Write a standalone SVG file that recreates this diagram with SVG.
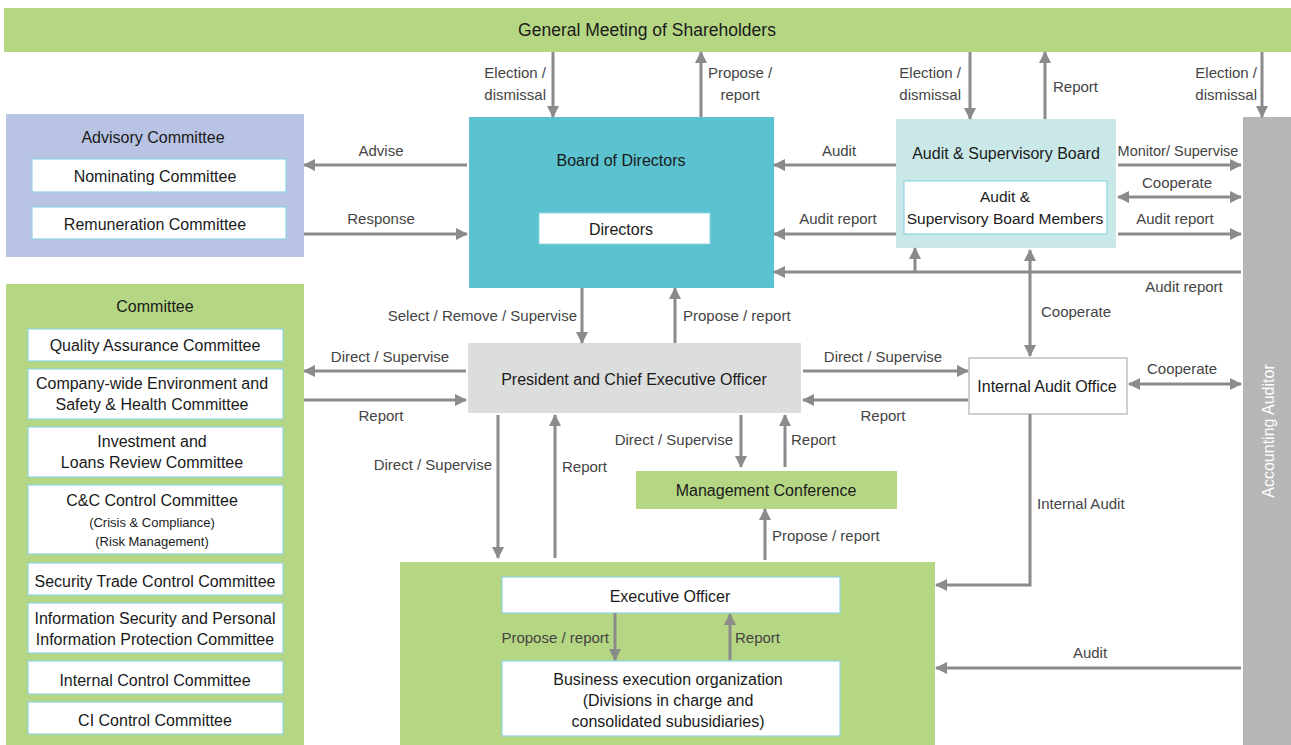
<svg xmlns="http://www.w3.org/2000/svg" width="1291" height="745" viewBox="0 0 1291 745">
<style>
.node{font-family:"Liberation Sans",Arial,sans-serif;font-size:16px;fill:#1a1a1a;text-anchor:middle}
.sm{font-size:13px}
.lbl{font-family:"Liberation Sans",Arial,sans-serif;font-size:15px;fill:#444;text-anchor:middle}
.s{text-anchor:start}
.e{text-anchor:end}
.in{fill:#fff;stroke:#8fd4e2;stroke-width:1.2}
.c{fill:none;stroke:#8b8b8b;stroke-width:3}
.a{marker-end:url(#ah)}
.d{marker-start:url(#ah);marker-end:url(#ah)}
</style>
<defs>
<marker id="ah" markerUnits="userSpaceOnUse" markerWidth="12" markerHeight="12" viewBox="0 0 12 12" refX="11" refY="6" orient="auto-start-reverse">
<path d="M0,0 L12,6 L0,12 z" fill="#8b8b8b"/>
</marker>
</defs>
<rect width="1291" height="745" fill="#fff"/>

<g id="gms">
<rect x="4" y="8" width="1287" height="44" fill="#b5d683"/>
<text class="node" x="647" y="36" style="font-size:17.5px">General Meeting of Shareholders</text>
</g>

<g id="advisory">
<rect x="6" y="114" width="298" height="143" fill="#b9c3e4"/>
<text class="node" x="153" y="143">Advisory Committee</text>
<rect class="in" x="32" y="159" width="254" height="33"/>
<text class="node" x="155" y="182">Nominating Committee</text>
<rect class="in" x="32" y="207" width="254" height="32"/>
<text class="node" x="155" y="230">Remuneration Committee</text>
</g>

<g id="committee">
<rect x="6" y="284" width="298" height="461" fill="#b5d683"/>
<text class="node" x="155" y="312">Committee</text>
<rect class="in" x="28" y="329" width="255" height="32"/>
<text class="node" x="155" y="351">Quality Assurance Committee</text>
<rect class="in" x="28" y="369" width="255" height="50"/>
<text class="node" x="152" y="389">Company-wide Environment and</text>
<text class="node" x="152" y="410">Safety &amp; Health Committee</text>
<rect class="in" x="28" y="427" width="255" height="50"/>
<text class="node" x="152" y="447">Investment and</text>
<text class="node" x="152" y="468">Loans Review Committee</text>
<rect class="in" x="28" y="485" width="255" height="69"/>
<text class="node" x="152" y="506">C&amp;C Control Committee</text>
<text class="node sm" x="152" y="527">(Crisis &amp; Compliance)</text>
<text class="node sm" x="152" y="546">(Risk Management)</text>
<rect class="in" x="28" y="563" width="255" height="32"/>
<text class="node" x="155" y="587">Security Trade Control Committee</text>
<rect class="in" x="28" y="603" width="255" height="50"/>
<text class="node" x="155" y="624">Information Security and Personal</text>
<text class="node" x="155" y="645">Information Protection Committee</text>
<rect class="in" x="28" y="661" width="255" height="33"/>
<text class="node" x="155" y="686">Internal Control Committee</text>
<rect class="in" x="28" y="702" width="255" height="32"/>
<text class="node" x="155" y="726">CI Control Committee</text>
</g>

<g id="board">
<rect x="469" y="117" width="305" height="171" fill="#5bc2d0"/>
<text class="node" x="621" y="166">Board of Directors</text>
<rect x="539" y="213" width="171" height="31" fill="#fff" stroke="#8fd4e2" stroke-width="1"/>
<text class="node" x="621" y="235">Directors</text>
</g>

<g id="asb">
<rect x="896" y="119" width="220" height="129" fill="#c9e8e7"/>
<text class="node" x="1006" y="159">Audit &amp; Supervisory Board</text>
<rect class="in" x="904" y="181" width="203" height="53"/>
<text class="node" x="1005" y="202" style="font-size:15.5px">Audit &amp;</text>
<text class="node" x="1005" y="224" style="font-size:15.5px">Supervisory Board Members</text>
</g>

<g id="auditor">
<rect x="1243" y="117" width="48" height="628" fill="#b5b6b5"/>
<text class="node" x="0" y="0" transform="translate(1274,431) rotate(-90)" style="fill:#fff">Accounting Auditor</text>
</g>

<g id="president">
<rect x="468" y="343" width="333" height="70" fill="#dcdddd"/>
<text class="node" x="634" y="385">President and Chief Executive Officer</text>
</g>

<g id="mgmt">
<rect x="636" y="471" width="261" height="38" fill="#b5d683"/>
<text class="node" x="766" y="496">Management Conference</text>
</g>

<g id="iao">
<rect x="969" y="358" width="158" height="56" fill="#fff" stroke="#cfcfcf" stroke-width="2"/>
<text class="node" x="1047" y="392">Internal Audit Office</text>
</g>

<g id="exec">
<rect x="400" y="562" width="535" height="183" fill="#b5d683"/>
<rect class="in" x="502" y="577" width="338" height="36"/>
<text class="node" x="670" y="602">Executive Officer</text>
<rect class="in" x="502" y="661" width="338" height="75"/>
<text class="node" x="668" y="685">Business execution organization</text>
<text class="node" x="668" y="706">(Divisions in charge and</text>
<text class="node" x="668" y="727">consolidated subusidiaries)</text>
</g>

<g id="connectors">
<path class="c a" d="M553,52 V117"/>
<path class="c a" d="M701,117 V52"/>
<path class="c a" d="M970,52 V119"/>
<path class="c a" d="M1045,119 V52"/>
<path class="c a" d="M1262,52 V117"/>
<path class="c a" d="M467,165 H304"/>
<path class="c a" d="M304,234 H467"/>
<path class="c a" d="M896,165 H774"/>
<path class="c a" d="M896,234 H774"/>
<path class="c a" d="M1241,272 H774"/>
<path class="c a" d="M915,272 V248"/>
<path class="c d" d="M1030,250 V356"/>
<path class="c a" d="M1118,165 H1241"/>
<path class="c d" d="M1118,197 H1241"/>
<path class="c a" d="M1118,234 H1241"/>
<path class="c a" d="M582,288 V343"/>
<path class="c a" d="M675,343 V288"/>
<path class="c a" d="M466,371 H304"/>
<path class="c a" d="M304,400 H466"/>
<path class="c a" d="M803,371 H968"/>
<path class="c a" d="M968,400 H803"/>
<path class="c d" d="M1129,384 H1241"/>
<path class="c a" d="M498,415 V558"/>
<path class="c a" d="M555,558 V415"/>
<path class="c a" d="M741,415 V467"/>
<path class="c a" d="M785,467 V415"/>
<path class="c a" d="M765,560 V509"/>
<path class="c a" d="M1030,414 V585 H936"/>
<path class="c a" d="M1241,668 H936"/>
<path class="c a" d="M615,613 V660"/>
<path class="c a" d="M730,660 V614"/>

<text class="lbl e" x="546" y="78">Election /</text>
<text class="lbl e" x="546" y="100">dismissal</text>
<text class="lbl" x="740" y="78">Propose /</text>
<text class="lbl" x="740" y="100">report</text>
<text class="lbl e" x="961" y="78">Election /</text>
<text class="lbl e" x="961" y="100">dismissal</text>
<text class="lbl s" x="1053" y="92">Report</text>
<text class="lbl e" x="1257" y="78">Election /</text>
<text class="lbl e" x="1257" y="100">dismissal</text>
<text class="lbl" x="381" y="156">Advise</text>
<text class="lbl" x="381" y="224">Response</text>
<text class="lbl" x="839" y="156">Audit</text>
<text class="lbl" x="838" y="224">Audit report</text>
<text class="lbl" x="1178" y="156" style="font-size:14.5px">Monitor/ Supervise</text>
<text class="lbl" x="1177" y="188">Cooperate</text>
<text class="lbl" x="1175" y="224">Audit report</text>
<text class="lbl" x="1184" y="292">Audit report</text>
<text class="lbl s" x="1041" y="317">Cooperate</text>
<text class="lbl e" x="577" y="321">Select / Remove / Supervise</text>
<text class="lbl s" x="683" y="321">Propose / report</text>
<text class="lbl" x="390" y="362">Direct / Supervise</text>
<text class="lbl" x="381" y="421">Report</text>
<text class="lbl" x="883" y="362">Direct / Supervise</text>
<text class="lbl" x="883" y="421">Report</text>
<text class="lbl" x="1182" y="374">Cooperate</text>
<text class="lbl e" x="492" y="470">Direct / Supervise</text>
<text class="lbl s" x="562" y="472">Report</text>
<text class="lbl e" x="733" y="445">Direct / Supervise</text>
<text class="lbl s" x="791" y="445">Report</text>
<text class="lbl s" x="772" y="541">Propose / report</text>
<text class="lbl s" x="1037" y="509">Internal Audit</text>
<text class="lbl" x="1090" y="658">Audit</text>
<text class="lbl e" x="609" y="643">Propose / report</text>
<text class="lbl s" x="735" y="643">Report</text>
</g>
</svg>
